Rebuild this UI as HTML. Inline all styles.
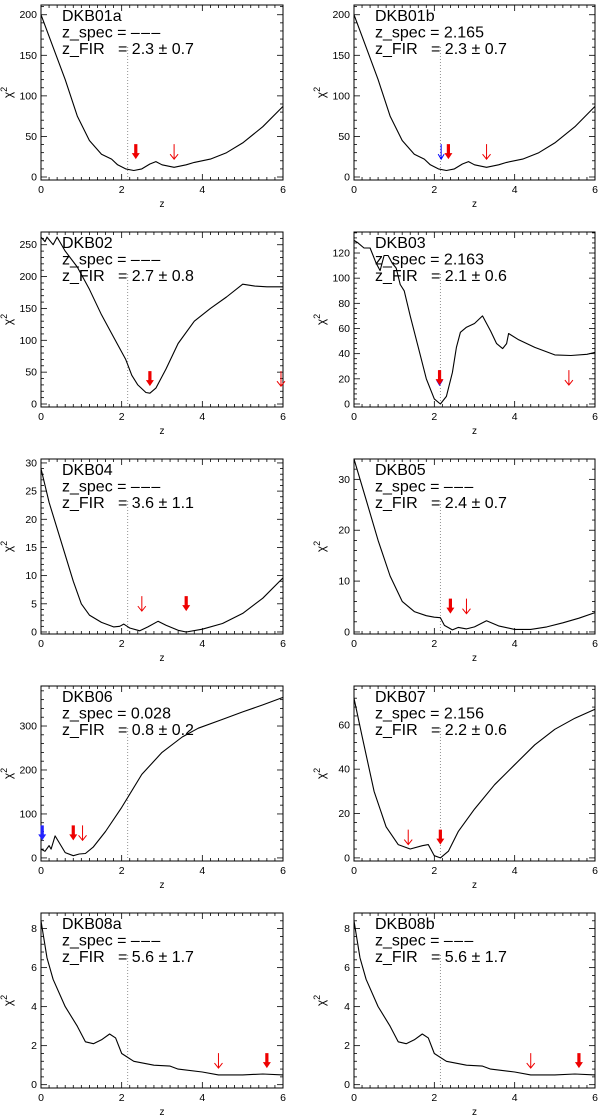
<!DOCTYPE html>
<html><head><meta charset="utf-8"><style>
body{margin:0;background:#fff;}
svg{display:block;font-family:"Liberation Sans",sans-serif;}
.lab{white-space:pre;}
</style></head><body>
<svg id="fig" width="600" height="1116" viewBox="0 0 600 1116" xmlns="http://www.w3.org/2000/svg"></svg>
<script>
const names=["DKB01a","DKB01b","DKB02","DKB03","DKB04","DKB05","DKB06","DKB07","DKB08a","DKB08b"];
const D="\u2013\u200a\u2013\u200a\u2013";
const zspecs=[D,"2.165",D,"2.163",D,D,"0.028","2.156",D,D];
const zfirs=["2.3 \u00b1 0.7","2.3 \u00b1 0.7","2.7 \u00b1 0.8","2.1 \u00b1 0.6","3.6 \u00b1 1.1","2.4 \u00b1 0.7","0.8 \u00b1 0.2","2.2 \u00b1 0.6","5.6 \u00b1 1.7","5.6 \u00b1 1.7"];
const yranges=[[-3.7,212],[-3.7,212],[-4.7,270],[-2.4,136.7],[-0.36,30.7],[-0.4,34],[-7,391],[-1.4,77.5],[-0.17,8.8],[-0.17,8.8]];
const yticks=[[0,50,100,150,200],[0,50,100,150,200],[0,50,100,150,200,250],[0,20,40,60,80,100,120],[0,5,10,15,20,25,30],[0,10,20,30],[0,100,200,300],[0,20,40,60],[0,2,4,6,8],[0,2,4,6,8]];
const xticks=[0,2,4,6];
const c01=[[0,200],[0.3,160],[0.6,120],[0.9,75],[1.2,45],[1.5,28],[1.75,22],[1.9,15],[2.1,10],[2.3,8],[2.5,10],[2.7,16],[2.85,19],[3.0,15],[3.3,12],[3.6,15],[3.8,18],[4.2,22],[4.6,30],[5.0,42],[5.5,62],[6,87]];
const c02=[[0,262],[0.1,255],[0.15,262],[0.3,250],[0.4,262],[0.6,240],[0.9,215],[1.2,180],[1.5,140],[1.8,105],[2.1,70],[2.25,45],[2.4,30],[2.6,18],[2.7,17],[2.85,25],[3.1,55],[3.4,95],[3.8,130],[4.2,150],[4.6,168],[5,188],[5.3,185],[5.6,184],[6,184]];
const c03=[[0,130],[0.1,128],[0.25,124],[0.4,124],[0.55,112],[0.65,106],[0.75,118],[0.85,118],[0.95,112],[1.05,108],[1.15,95],[1.25,90],[1.4,70],[1.6,45],[1.8,20],[2.0,4],[2.15,0],[2.3,6],[2.45,25],[2.55,45],[2.65,57],[2.8,61],[3.0,64],[3.2,70],[3.4,58],[3.55,48],[3.7,44],[3.8,48],[3.85,56],[4.1,51],[4.5,45],[5.0,39],[5.4,38.5],[5.8,39.5],[6,41]];
const c04=[[0,29],[0.2,23],[0.5,16],[0.8,9],[1.0,5],[1.2,3],[1.5,1.7],[1.8,0.9],[1.95,1],[2.05,1.4],[2.2,0.7],[2.45,0.2],[2.65,0.9],[2.9,1.9],[3.1,1.2],[3.4,0.3],[3.6,0.0],[4.0,0.5],[4.5,1.5],[5.0,3.3],[5.5,6],[6,9.6]];
const c05=[[0,34],[0.3,26],[0.6,18],[0.9,11],[1.2,6],[1.5,4],[1.8,3.2],[2.0,2.9],[2.15,2.8],[2.25,1.3],[2.45,0.4],[2.6,0.9],[2.8,0.6],[3.0,1.0],[3.3,2.2],[3.6,1.2],[4.0,0.5],[4.4,0.5],[4.8,1.0],[5.2,1.8],[5.6,2.7],[6,3.8]];
const c06=[[0,20],[0.1,15],[0.2,28],[0.25,20],[0.35,50],[0.45,35],[0.6,12],[0.8,5],[0.95,9],[1.1,10],[1.3,25],[1.6,60],[2.0,115],[2.5,190],[3.0,240],[3.5,275],[3.9,295],[4.5,315],[5.0,332],[5.5,348],[6,365]];
const c07=[[0,72],[0.2,55],[0.5,30],[0.8,14],[1.1,6],[1.4,4],[1.7,5.5],[1.85,6],[2.0,1],[2.15,0],[2.35,3],[2.6,12],[3.0,22],[3.5,33],[4.0,42],[4.5,51],[5.0,58],[5.5,63],[6,67]];
const c08=[[0,8.4],[0.15,6.5],[0.3,5.4],[0.6,4],[0.9,3],[1.1,2.2],[1.3,2.1],[1.5,2.3],[1.7,2.6],[1.85,2.4],[2.0,1.6],[2.3,1.2],[2.8,1.0],[3.2,0.95],[3.4,0.8],[4.0,0.65],[4.4,0.5],[5.0,0.5],[5.5,0.55],[6,0.5]];
const curves=[c01,c01,c02,c03,c04,c05,c06,c07,c08,c08];
const arrows=[
 [[2.35,22,"thick"],[3.3,22,"thin"]],
 [[2.17,22,"blue"],[2.35,22,"thick"],[3.3,22,"thin"]],
 [[2.7,28,"thick"],[5.95,28,"thin"]],
 [[2.13,15,"blue"],[2.13,15,"thick"],[5.35,15,"thin"]],
 [[2.5,3.7,"thin"],[3.6,3.7,"thick"]],
 [[2.4,3.6,"thick"],[2.8,3.6,"thin"]],
 [[0.03,40,"blueThick"],[0.8,40,"thick"],[1.03,40,"thin"]],
 [[1.35,6,"thin"],[2.15,6,"thick"]],
 [[4.4,0.85,"thin"],[5.6,0.85,"thick"]],
 [[4.4,0.85,"thin"],[5.6,0.85,"thick"]]
];
const vline=2.15;
const NS="http://www.w3.org/2000/svg";
const svg=document.getElementById('fig');
function mk(tag,attrs,parent){const e=document.createElementNS(NS,tag);for(const k in attrs)e.setAttribute(k,attrs[k]);(parent||svg).appendChild(e);return e;}
names.forEach((nm,i)=>{
 const col=i%2,row=Math.floor(i/2);
 const L=col?354:41,R=col?595:283,T=5+227*row,B=180+227*row;
 const [y0,y1]=yranges[i];
 const X=z=>L+(z/6)*(R-L);
 const Y=v=>B-(v-y0)/(y1-y0)*(B-T);
 const g=mk('g',{});
 
 
 for(let z=0;z<=6.001;z+=0.2){const maj=Math.abs(z/2-Math.round(z/2))<1e-6;const l=maj?6:3;
  mk('line',{x1:X(z),x2:X(z),y1:B,y2:B-l,stroke:'#000','stroke-width':0.8},g);
  mk('line',{x1:X(z),x2:X(z),y1:T,y2:T+l,stroke:'#000','stroke-width':0.8},g);}
 xticks.forEach(z=>{const t=mk('text',{x:X(z),y:B+13,'font-size':10.5,'text-anchor':'middle'},g);t.textContent=z;
  });
 const yt=yticks[i],step=yt[1]-yt[0],mstep=step/5;
 for(let v=0;v<=y1;v+=mstep){const maj=Math.abs(v/step-Math.round(v/step))<1e-6;const l=maj?6:3;
  mk('line',{x1:L,x2:L+l,y1:Y(v),y2:Y(v),stroke:'#000','stroke-width':0.8},g);
  mk('line',{x1:R,x2:R-l,y1:Y(v),y2:Y(v),stroke:'#000','stroke-width':0.8},g);}
 yt.forEach(v=>{const t=mk('text',{x:L-4,y:Y(v)+3.5,'font-size':10.5,'text-anchor':'end'},g);t.textContent=v;
  });
 const box=mk('rect',{x:L,y:T,width:R-L,height:B-T,fill:'none',stroke:'#000','stroke-width':1},g);
 
 const vl=mk('line',{x1:X(vline),x2:X(vline),y1:Y(y0),y2:T+40,stroke:'#777','stroke-width':0.8,'stroke-dasharray':'1,2'},g);
 
 const pts=curves[i].map(p=>X(p[0]).toFixed(1)+','+Y(p[1]).toFixed(1)).join(' ');
 const pl=mk('polyline',{points:pts,fill:'none',stroke:'#000','stroke-width':1.1,'stroke-linejoin':'round'},g);
 
 arrows[i].forEach(a=>{const x=X(a[0]),y=Y(a[1]);let e;
  if(a[2]==='thin'){e=mk('path',{d:`M${x},${y-15}L${x},${y}M${x-4},${y-5}L${x},${y}L${x+4},${y-5}`,stroke:'#e00',fill:'none','stroke-width':1},g);}
  else if(a[2]==='blue'){e=mk('path',{d:`M${x},${y-15}L${x},${y}M${x-3},${y-5}L${x},${y}L${x+3},${y-5}`,stroke:'#00f',fill:'none','stroke-width':1},g);}
  else{const c=a[2]==='blueThick'?'#22f':'#e00';e=mk('path',{d:`M${x-1.6},${y-15}L${x+1.6},${y-15}L${x+1.6},${y-6}L${x+4},${y-6}L${x},${y}L${x-4},${y-6}L${x-1.6},${y-6}Z`,fill:c},g);}
  });
 const lx=L+21;
 [nm,'z_spec = '+zspecs[i],'z_FIR   = '+zfirs[i]].forEach((s,k)=>{const t=mk('text',{x:lx,y:T+16+16.5*k,'font-size':16,class:'lab'},g);t.textContent=s;
  });
 const xl=mk('text',{x:(L+R)/2,y:B+27,'font-size':10,'text-anchor':'middle'},g);xl.textContent='z';
 
 const cx=L-29,cy=(T+B)/2;
 const yl=mk('text',{x:cx,y:cy,'font-size':12,'text-anchor':'middle',transform:`rotate(-90 ${cx} ${cy})`},g);
 yl.textContent='\u03c7';const sup=mk('tspan',{'font-size':9,dy:-5},yl);sup.textContent='2';
 
});
</script>
</body></html>
